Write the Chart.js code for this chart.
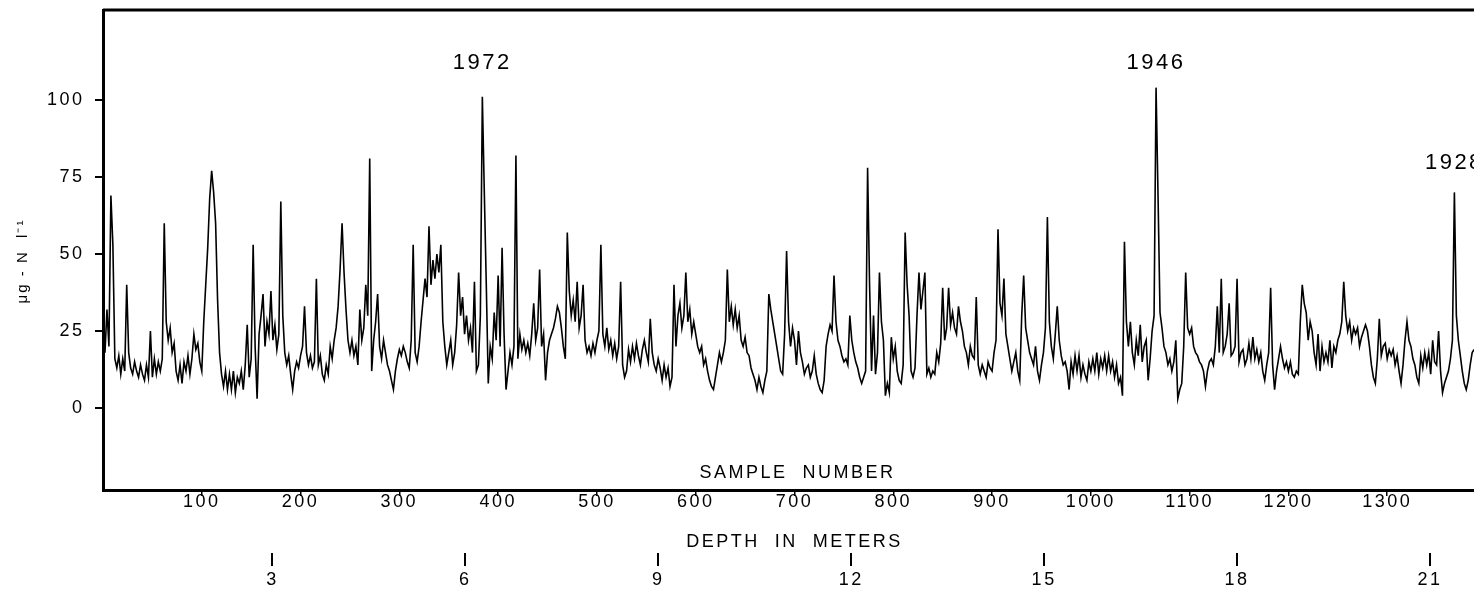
<!DOCTYPE html>
<html>
<head>
<meta charset="utf-8">
<script src="https://cdn.jsdelivr.net/npm/chart.js@4.4.1/dist/chart.umd.min.js"></script>
<style>
  html, body { margin: 0; padding: 0; background: #fff; overflow: hidden; }
  #wrap { width: 1490px; height: 589px; }
</style>
</head>
<body>
<div id="wrap"><canvas id="nitrateChart"></canvas></div>
<script>
// nitrate concentration (ug-N/l), one value read every 2nd sample
const sampleStep = 2;
const nitrate = [
  26, 18, 32, 20, 69, 53, 16, 13, 17, 11,
  16, 12, 40, 18, 13, 11, 15, 12, 10, 14,
  11, 9, 14, 10, 25, 10, 16, 11, 15, 12,
  16, 60, 28, 22, 26, 18, 21, 12, 9, 14,
  8, 15, 12, 17, 11, 16, 24, 19, 21, 15,
  12, 28, 40, 52, 68, 77, 70, 60, 35, 18,
  11, 7, 12, 6, 11, 6, 12, 5, 10, 8,
  12, 6, 14, 27, 10, 16, 53, 20, 3, 24,
  30, 37, 20, 28, 24, 38, 22, 27, 19, 24,
  67, 30, 18, 14, 17, 11, 6, 12, 15, 13,
  17, 20, 33, 18, 14, 17, 13, 15, 42, 14,
  17, 11, 9, 14, 11, 20, 16, 22, 26, 33,
  45, 60, 44, 32, 22, 18, 22, 17, 20, 14,
  32, 22, 26, 40, 30, 81, 12, 22, 28, 37,
  20, 16, 22, 18, 14, 12, 9, 6, 12, 16,
  19, 17, 20, 18, 15, 13, 22, 53, 18, 15,
  20, 28, 35, 42, 36, 59, 40, 48, 42, 50,
  44, 53, 28, 20, 14, 18, 22, 14, 18, 27,
  44, 30, 36, 24, 30, 22, 26, 18, 41, 12,
  14, 30, 101, 70, 40, 8, 20, 16, 31, 22,
  43, 20, 52, 24, 6, 12, 18, 14, 20, 82,
  16, 24, 19, 22, 18, 21, 17, 24, 34, 22,
  26, 45, 20, 24, 9, 18, 22, 24, 26, 29,
  33, 31, 26, 20, 16, 57, 38, 30, 35, 28,
  41, 26, 30, 40, 22, 18, 20, 17, 21, 18,
  22, 25, 53, 24, 20, 26, 19, 22, 17, 21,
  16, 20, 41, 14, 10, 12, 19, 15, 20, 16,
  21, 17, 14, 19, 22, 18, 15, 29, 18, 14,
  12, 16, 13, 9, 14, 10, 13, 7, 10, 40,
  20, 30, 34, 26, 30, 44, 28, 32, 24, 28,
  24, 20, 18, 20, 14, 16, 12, 9, 7, 6,
  10, 14, 18, 15, 18, 22, 45, 28, 33, 27,
  32, 26, 30, 22, 20, 23, 18, 17, 13, 11,
  9, 6, 10, 7, 5, 9, 12, 37, 32, 28,
  24, 20, 16, 12, 11, 24, 51, 28, 20, 26,
  22, 14, 25, 18, 15, 11, 13, 14, 10, 12,
  17, 11, 8, 6, 5, 9, 20, 24, 27, 25,
  43, 28, 22, 20, 17, 15, 16, 14, 30, 22,
  18, 15, 13, 10, 8, 10, 12, 78, 40, 12,
  30, 11, 18, 44, 28, 22, 4, 8, 5, 23,
  16, 20, 12, 9, 8, 14, 57, 40, 30, 12,
  10, 13, 30, 44, 32, 38, 44, 11, 13, 10,
  12, 11, 18, 15, 21, 39, 22, 26, 39, 27,
  31, 26, 24, 33, 28, 25, 20, 18, 14, 20,
  17, 16, 36, 14, 11, 14, 12, 10, 15, 13,
  12, 18, 22, 58, 34, 30, 42, 24, 20, 16,
  12, 15, 18, 12, 9, 30, 43, 26, 22, 18,
  16, 14, 20, 12, 9, 14, 18, 26, 62, 28,
  20, 16, 24, 33, 22, 17, 14, 15, 12, 6,
  15, 11, 17, 12, 17, 10, 14, 11, 9, 15,
  12, 16, 12, 18, 11, 16, 13, 17, 12, 17,
  12, 15, 10, 14, 8, 10, 4, 54, 28, 20,
  28, 18, 14, 22, 17, 27, 15, 20, 22, 9,
  16, 25, 30, 104, 69, 31, 26, 20, 18, 14,
  16, 12, 15, 22, 3, 6, 8, 20, 44, 26,
  24, 26, 20, 18, 17, 15, 14, 12, 7, 12,
  15, 16, 14, 20, 33, 18, 42, 18, 20, 24,
  34, 17, 18, 20, 42, 15, 18, 19, 14, 16,
  21, 16, 23, 16, 19, 15, 18, 12, 9, 14,
  18, 39, 14, 6, 12, 16, 20, 16, 13, 15,
  12, 15, 11, 10, 12, 11, 28, 40, 34, 31,
  22, 28, 25, 18, 14, 24, 12, 20, 15, 18,
  15, 22, 13, 20, 18, 22, 24, 28, 41, 30,
  25, 28, 22, 26, 24, 26, 20, 23, 25, 27,
  25, 20, 14, 10, 8, 16, 29, 17, 20, 21,
  16, 19, 17, 19, 14, 17, 12, 8, 14, 22,
  28, 22, 20, 16, 14, 10, 8, 17, 13, 18,
  14, 18, 11, 22, 15, 14, 25, 12, 5, 8,
  10, 12, 16, 22, 70, 30, 22, 17, 12, 8,
  6, 9, 14, 18, 19
];

// tick labels
const sampleTicks = [100, 200, 300, 400, 500, 600, 700, 800, 900, 1000, 1100, 1200, 1300];
const valueTicks = [0, 25, 50, 75, 100];
const depthTicks = [3, 6, 9, 12, 15, 18, 21];

// dated peaks
const yearLabels = ['1972', '1946', '1928'];
const yearSamples = [384, 1066, 1368];
const yearLevels = [112, 112, 79.5];

// depth (m) <-> sample number
const samplesPerMeter = 65.1;
const depthOffset = -23.8;
const sampleMax = 1400;

const FONT = '"Liberation Sans", Arial, sans-serif';

const points = nitrate.map((v, i) => ({ x: i * sampleStep, y: v }));

const noPad = s => { s.paddingTop = 0; s.paddingBottom = 0; s.paddingLeft = 0; s.paddingRight = 0; };

const paperPlugin = {
  id: 'paper',
  beforeDraw(chart) {
    chart.ctx.letterSpacing = '2.5px';
  },
  afterDraw(chart) {
    const { ctx, chartArea: a, scales } = chart;
    ctx.save();
    // rest of the frame
    ctx.strokeStyle = '#000';
    ctx.lineWidth = 3;
    ctx.beginPath();
    ctx.moveTo(a.left, a.top);
    ctx.lineTo(a.right, a.top);
    ctx.lineTo(a.right, a.bottom);
    ctx.stroke();

    ctx.fillStyle = '#000';
    ctx.textAlign = 'center';
    ctx.textBaseline = 'middle';
    ctx.font = '22px ' + FONT;
    yearLabels.forEach((t, i) => {
      ctx.fillText(t, scales.x.getPixelForValue(yearSamples[i]), scales.y.getPixelForValue(yearLevels[i]));
    });

    ctx.font = '18px ' + FONT;
    ctx.fillText('SAMPLE  NUMBER', scales.x.getPixelForValue(703), a.bottom - 17);
    ctx.fillText('DEPTH  IN  METERS', scales.x.getPixelForValue(700), scales.depth.top - 11);

    // y title
    ctx.translate(23, (a.top + a.bottom) / 2 + 11);
    ctx.rotate(-Math.PI / 2);
    ctx.font = '15px ' + FONT;
    ctx.letterSpacing = '2px';
    ctx.fillText('\u03bcg - N  l\u207b\u00b9', 0, 0);
    ctx.restore();
  }
};

new Chart(document.getElementById('nitrateChart'), {
  type: 'line',
  data: {
    datasets: [{
      data: points,
      borderColor: '#000',
      borderWidth: 1.6,
      pointRadius: 0,
      tension: 0,
      fill: false
    }]
  },
  options: {
    responsive: true,
    maintainAspectRatio: false,
    animation: false,
    layout: { padding: { top: 10, right: 4, left: 0, bottom: 0 } },
    plugins: { legend: { display: false }, tooltip: { enabled: false } },
    scales: {
      x: {
        type: 'linear',
        position: 'bottom',
        weight: 0,
        min: 0,
        max: sampleMax,
        afterBuildTicks: s => { s.ticks = sampleTicks.map(v => ({ value: v })); },
        afterFit: s => { s.height = 63; noPad(s); },
        ticks: {
          autoSkip: false,
          maxRotation: 0,
          padding: -5,
          color: '#000',
          font: { family: FONT, size: 18 },
          callback: v => String(v)
        },
        grid: { drawOnChartArea: false, tickLength: 6, color: '#000', lineWidth: 1.5 },
        border: { display: true, color: '#000', width: 3 }
      },
      depth: {
        type: 'linear',
        position: 'bottom',
        weight: 1,
        min: (0 - depthOffset) / samplesPerMeter,
        max: (sampleMax - depthOffset) / samplesPerMeter,
        afterBuildTicks: s => { s.ticks = depthTicks.map(v => ({ value: v })); },
        afterFit: s => { s.height = 36; noPad(s); },
        ticks: {
          autoSkip: false,
          maxRotation: 0,
          padding: 3,
          color: '#000',
          font: { family: FONT, size: 18 },
          callback: v => String(v)
        },
        grid: { drawOnChartArea: false, tickLength: 13, color: '#000', lineWidth: 2 },
        border: { display: false }
      },
      y: {
        type: 'linear',
        min: -26.6,
        max: 129.2,
        afterBuildTicks: s => { s.ticks = valueTicks.map(v => ({ value: v })); },
        afterFit: s => { s.width = 103; noPad(s); },
        ticks: {
          padding: 10.5,
          color: '#000',
          font: { family: FONT, size: 18 },
          callback: v => String(v)
        },
        grid: { drawOnChartArea: false, tickLength: 8, color: '#000', lineWidth: 2 },
        border: { display: true, color: '#000', width: 3 }
      }
    }
  },
  plugins: [paperPlugin]
});
</script>
</body>
</html>
